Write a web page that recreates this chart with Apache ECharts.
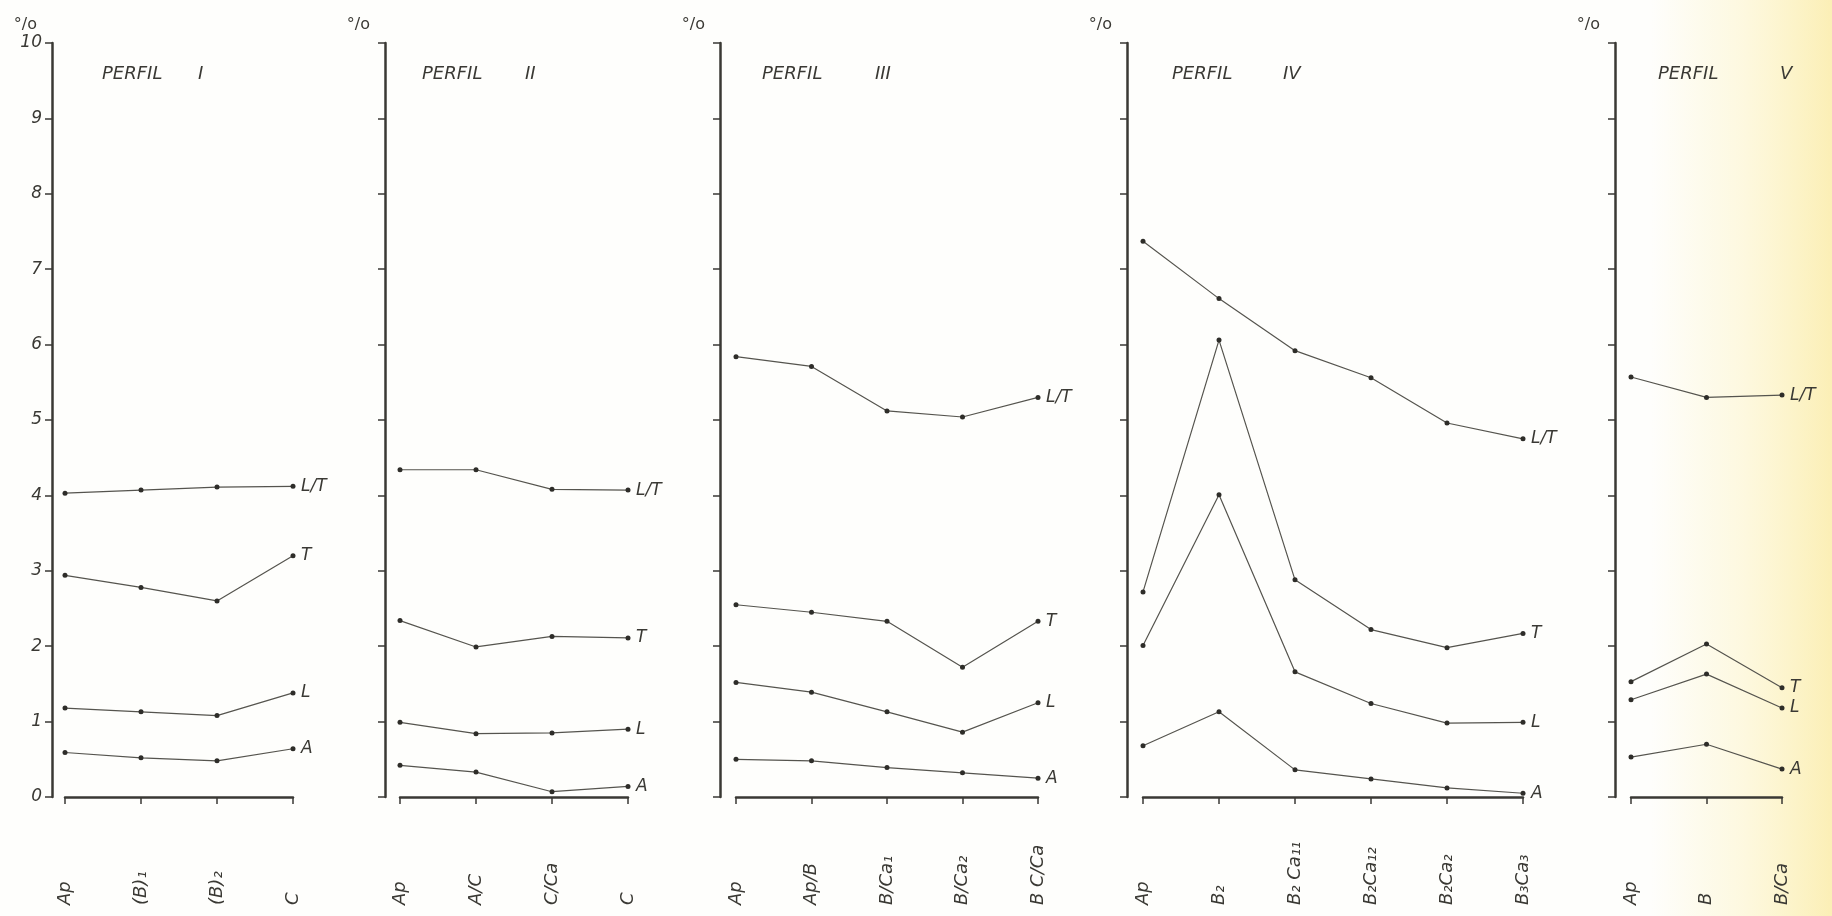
<!DOCTYPE html>
<html>
<head>
<meta charset="utf-8">
<script src="https://cdn.jsdelivr.net/npm/echarts@6/dist/echarts.min.js"></script>
<style>
html, body { margin: 0; padding: 0; background: #fff; }
#chart { width: 1832px; height: 916px; }
</style>
</head>
<body>
<div id="chart"></div>
<script>
// horizons (x categories) and values (%) per profile
var cats1 = ['Ap', '(B)₁', '(B)₂', 'C'];
var lt1 = [4.03, 4.07, 4.11, 4.12];
var t1 = [2.94, 2.78, 2.60, 3.20];
var l1 = [1.18, 1.13, 1.08, 1.38];
var a1 = [0.59, 0.52, 0.48, 0.64];

var cats2 = ['Ap', 'A/C', 'C/Ca', 'C'];
var lt2 = [4.34, 4.34, 4.08, 4.07];
var t2 = [2.34, 1.99, 2.13, 2.11];
var l2 = [0.99, 0.84, 0.85, 0.90];
var a2 = [0.42, 0.33, 0.07, 0.14];

var cats3 = ['Ap', 'Ap/B', 'B/Ca₁', 'B/Ca₂', 'B C/Ca'];
var lt3 = [5.84, 5.71, 5.12, 5.04, 5.30];
var t3 = [2.55, 2.45, 2.33, 1.72, 2.33];
var l3 = [1.52, 1.39, 1.13, 0.86, 1.25];
var a3 = [0.50, 0.48, 0.39, 0.32, 0.25];

var cats4 = ['Ap', 'B₂', 'B₂ Ca₁₁', 'B₂Ca₁₂', 'B₂Ca₂', 'B₃Ca₃'];
var lt4 = [7.37, 6.61, 5.92, 5.56, 4.96, 4.75];
var t4 = [2.72, 6.06, 2.88, 2.22, 1.98, 2.17];
var l4 = [2.01, 4.01, 1.66, 1.24, 0.98, 0.99];
var a4 = [0.68, 1.13, 0.36, 0.24, 0.12, 0.05];

var cats5 = ['Ap', 'B', 'B/Ca'];
var lt5 = [5.57, 5.30, 5.33];
var t5 = [1.53, 2.03, 1.45];
var l5 = [1.29, 1.63, 1.18];
var a5 = [0.53, 0.70, 0.37];

var yTicks = [0, 1, 2, 3, 4, 5, 6, 7, 8, 9, 10];

var profiles = [
  { num: 'I',   cats: cats1, lt: lt1, t: t1, l: l1, a: a1 },
  { num: 'II',  cats: cats2, lt: lt2, t: t2, l: l2, a: a2 },
  { num: 'III', cats: cats3, lt: lt3, t: t3, l: l3, a: a3 },
  { num: 'IV',  cats: cats4, lt: lt4, t: t4, l: l4, a: a4 },
  { num: 'V',   cats: cats5, lt: lt5, t: t5, l: l5, a: a5 }
];

// layout: grid left/width, y axis offset, title positions
var layout = [
  { left: 65,   width: 228, offset: 13, titleX: 97,   numX: 193 },
  { left: 400,  width: 228, offset: 15, titleX: 417,  numX: 520 },
  { left: 736,  width: 302, offset: 16, titleX: 757,  numX: 870 },
  { left: 1143, width: 380, offset: 16, titleX: 1167, numX: 1278 },
  { left: 1631, width: 151, offset: 16, titleX: 1653, numX: 1775 }
];

var ink = '#3a3934';
var lineInk = '#55544e';
var font = 'DejaVu Sans';

var grids = [], xAxes = [], yAxes = [], series = [], titles = [];

profiles.forEach(function (p, i) {
  var g = layout[i];
  grids.push({ left: g.left, width: g.width, top: 43, bottom: 119 });

  xAxes.push({
    type: 'category', gridIndex: i, data: p.cats, boundaryGap: false,
    axisLine: { lineStyle: { color: ink, width: 2.5 } },
    axisTick: { show: true, length: 7, lineStyle: { color: ink, width: 1.5 } },
    axisLabel: {
      interval: 0, rotate: 90, align: 'left', margin: 108,
      fontFamily: font, fontStyle: 'italic', fontSize: 18, color: ink
    },
    splitLine: { show: false }
  });

  yAxes.push({
    type: 'value', gridIndex: i, min: 0, max: 10, interval: 1, offset: g.offset,
    name: '°/o', nameLocation: 'end', nameGap: 10,
    nameTextStyle: { align: 'right', padding: [0, 15, 0, 0], fontFamily: font, fontSize: 16, color: ink },
    axisLine: { show: true, lineStyle: { color: ink, width: 2.5 } },
    axisTick: { show: true, length: 7, lineStyle: { color: ink, width: 1.5 } },
    axisLabel: {
      show: i === 0, margin: 10,
      fontFamily: font, fontStyle: 'italic', fontSize: 17, color: ink,
      formatter: function (v) { return yTicks.indexOf(v) >= 0 ? String(v) : ''; }
    },
    splitLine: { show: false }
  });

  [['L/T', p.lt], ['T', p.t], ['L', p.l], ['A', p.a]].forEach(function (s) {
    series.push({
      type: 'line', name: s[0], xAxisIndex: i, yAxisIndex: i, data: s[1],
      symbol: 'circle', symbolSize: 5, showAllSymbol: true,
      lineStyle: { color: lineInk, width: 1.2 },
      itemStyle: { color: '#2e2d29' },
      endLabel: {
        show: true, formatter: s[0], distance: 8,
        fontFamily: font, fontStyle: 'italic', fontSize: 17, color: ink
      }
    });
  });

  titles.push({ text: 'PERFIL', left: g.titleX, top: 60,
    textStyle: { fontFamily: font, fontStyle: 'italic', fontWeight: 'normal', fontSize: 18, color: ink } });
  titles.push({ text: p.num, left: g.numX, top: 60,
    textStyle: { fontFamily: font, fontStyle: 'italic', fontWeight: 'normal', fontSize: 18, color: ink } });
});

var chart = echarts.init(document.getElementById('chart'));
chart.setOption({
  animation: false,
  backgroundColor: '#fefefc',
  graphic: [{
    type: 'rect', z: -10, silent: true,
    shape: { x: 1650, y: 0, width: 182, height: 916 },
    style: {
      fill: new echarts.graphic.LinearGradient(0, 0, 1, 0, [
        { offset: 0, color: 'rgba(252,242,190,0)' },
        { offset: 0.5, color: 'rgba(252,242,190,0.45)' },
        { offset: 1, color: 'rgba(251,238,178,0.95)' }
      ])
    }
  }],
  title: titles,
  grid: grids,
  xAxis: xAxes,
  yAxis: yAxes,
  series: series
});
</script>
</body>
</html>
